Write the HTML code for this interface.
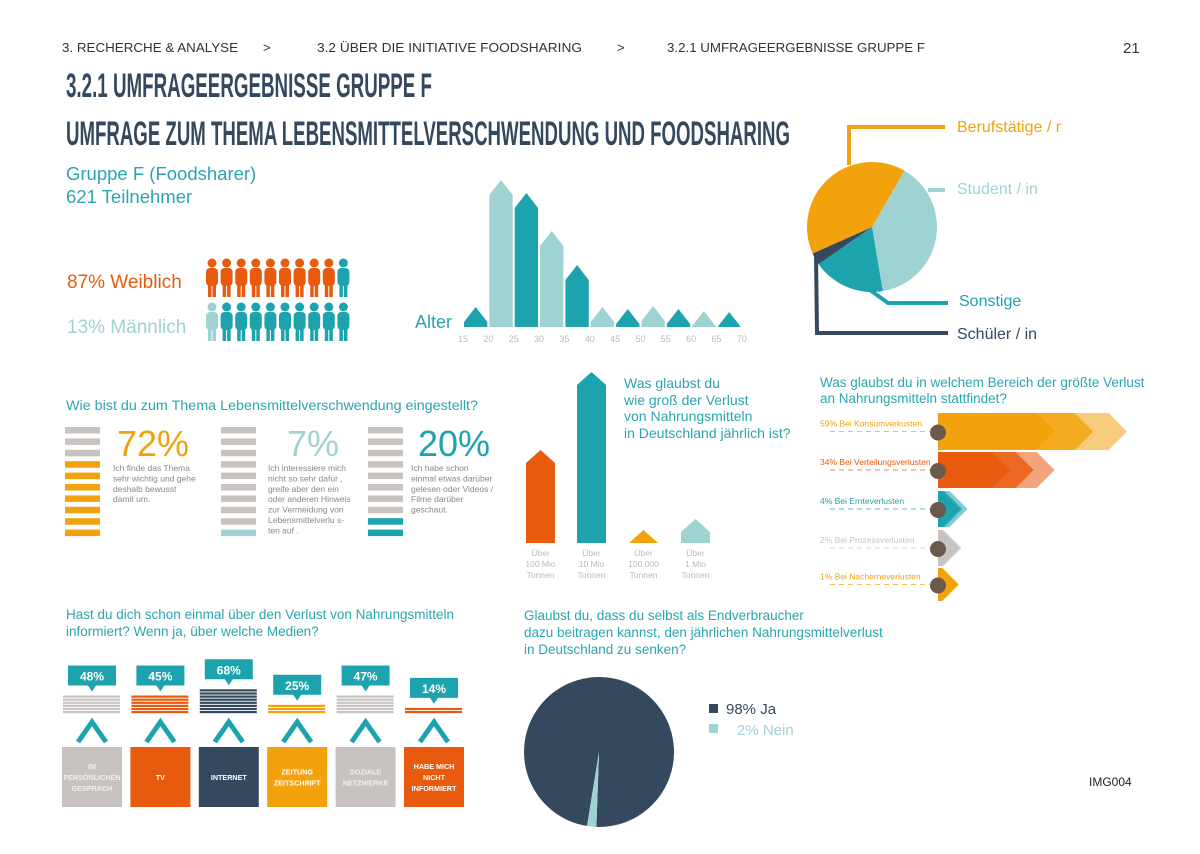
<!DOCTYPE html>
<html><head><meta charset="utf-8"><style>
html,body{margin:0;padding:0;background:#fff;}
svg{display:block;font-family:"Liberation Sans",sans-serif;}
</style></head><body>
<svg id="s" width="1200" height="854" viewBox="0 0 1200 854" xmlns="http://www.w3.org/2000/svg">
<rect width="1200" height="854" fill="#fff"/>
<g font-size="13" fill="#333">
<text x="62" y="52" textLength="176" lengthAdjust="spacingAndGlyphs">3. RECHERCHE &amp; ANALYSE</text>
<text x="263" y="52">&gt;</text>
<text x="317" y="52" textLength="265" lengthAdjust="spacingAndGlyphs">3.2 ÜBER DIE INITIATIVE FOODSHARING</text>
<text x="617" y="52">&gt;</text>
<text x="667" y="52" textLength="258" lengthAdjust="spacingAndGlyphs">3.2.1 UMFRAGEERGEBNISSE GRUPPE F</text>
<text x="1123" y="53" font-size="15">21</text>
</g>
<text x="66" y="97" font-size="34" font-weight="bold" fill="#34495e" textLength="366" lengthAdjust="spacingAndGlyphs" font-family="Liberation Sans Narrow, Liberation Sans, sans-serif">3.2.1 UMFRAGEERGEBNISSE GRUPPE F</text>
<text x="66" y="145" font-size="34" font-weight="bold" fill="#34495e" textLength="724" lengthAdjust="spacingAndGlyphs" font-family="Liberation Sans Narrow, Liberation Sans, sans-serif">UMFRAGE ZUM THEMA LEBENSMITTELVERSCHWENDUNG UND FOODSHARING</text>
<text x="66" y="180" font-size="18.5" fill="#2aa5b0">Gruppe F (Foodsharer)</text>
<text x="66" y="203" font-size="18.5" fill="#2aa5b0">621 Teilnehmer</text>
<text x="67" y="288" font-size="19" fill="#e85a0e">87% Weiblich</text>
<text x="67" y="333" font-size="19" fill="#9fd3d3">13% Männlich</text>
<text x="415" y="328" font-size="18" fill="#2aa5b0">Alter</text>
<text x="66" y="410" font-size="13.5" fill="#2aa5b0" textLength="412" lengthAdjust="spacingAndGlyphs">Wie bist du zum Thema Lebensmittelverschwendung eingestellt?</text>
<g font-size="14" fill="#2aa5b0">
<text x="624" y="388">Was glaubst du</text><text x="624" y="405">wie groß der Verlust</text><text x="624" y="421">von Nahrungsmitteln</text><text x="624" y="438">in Deutschland jährlich ist?</text></g>
<g font-size="13.5" fill="#2aa5b0">
<text x="820" y="387">Was glaubst du in welchem Bereich der größte Verlust</text><text x="820" y="403">an Nahrungsmitteln stattfindet?</text></g>
<g font-size="13.5" fill="#2aa5b0">
<text x="66" y="619">Hast du dich schon einmal über den Verlust von Nahrungsmitteln</text><text x="66" y="636">informiert? Wenn ja, über welche Medien?</text></g>
<g font-size="13.5" fill="#2aa5b0">
<text x="524" y="620">Glaubst du, dass du selbst als Endverbraucher</text><text x="524" y="637">dazu beitragen kannst, den jährlichen Nahrungsmittelverlust</text><text x="524" y="654">in Deutschland zu senken?</text></g>
<text x="1089" y="786" font-size="12" fill="#222">IMG004</text>
</svg>
<script>
// ---- data ----
const ageBins = [15,20,25,30,35,40,45,50,55,60,65];
const ageTicks = [15,20,25,30,35,40,45,50,55,60,65,70];
const ageValues = [5,132,119,81,47,5,3,6,3,1,0];
const occLabels = ["Student / in","Sonstige","Schüler / in","Berufstätige / r"];
const occValues = [39,18,3,40];
const femaleIcons = 9, maleIcons = 1;
const attitudePct = ["72%","7%","20%"];
const attitudeStripes = [7,1,2];
const lossCats = [["Über","100 Mio","Tonnen"],["Über","10 Mio","Tonnen"],["Über","100.000","Tonnen"],["Über","1 Mio","Tonnen"]];
const lossValues = [80,158,0,11];
const sectorLabels = ["59% Bei Konsumverkusten","34% Bei Verteilungsverlusten","4% Bei Ernteverlusten","2% Bei Prozessverlusten","1% Bei Nacherneverlusten"];
const sectorValues = [59,34,4,2,1];
const mediaLabels = [["IM","PERSÖNLICHEN","GESPRÄCH"],["TV"],["INTERNET"],["ZEITUNG","ZEITSCHRIFT"],["SOZIALE","NETZWERKE"],["HABE MICH","NICHT","INFORMIERT"]];
const mediaValues = [48,45,68,25,47,14];
const yesNoLabels = ["98% Ja","2% Nein"];
const yesNoValues = [98,2];

const S=document.getElementById('s'), NS="http://www.w3.org/2000/svg";
function mk(tag,a,p){const e=document.createElementNS(NS,tag);for(const k in a)e.setAttribute(k,a[k]);(p||S).appendChild(e);return e;}
function txt(x,y,s,a,p){const e=mk('text',Object.assign({x:x,y:y},a),p);e.textContent=s;return e;}
const TEAL="#1ca3ae",LT="#9fd3d3",OR="#f2a20c",RED="#e85a0e",DK="#34495e",GR="#c8c3c0";

function person(x,y,c,nm){const g=mk('g',{fill:c});


mk('circle',{cx:x+6,cy:y+5,r:4.5},g);mk('rect',{x:x,y:y+10,width:12,height:18,rx:4},g);
mk('rect',{x:x+2,y:y+26,width:3.5,height:13},g);mk('rect',{x:x+6.5,y:y+26,width:3.5,height:13},g);}
for(let i=0;i<10;i++){person(206+i*14.6,258,i<femaleIcons?RED:TEAL,'female-icon');}
for(let i=0;i<10;i++){person(206+i*14.6,302,i<maleIcons?LT:TEAL,'male-icon');}

const ax=v=>463+(v-15)*5.07, ay=v=>327-v;
ageBins.forEach((b,i)=>{const x0=ax(b)+1,x1=ax(b+5)-1,sh=ay(ageValues[i]),m=(x0+x1)/2;
const p=mk('polygon',{points:`${x0},327 ${x0},${sh} ${m},${sh-15} ${x1},${sh} ${x1},327`,fill:i%2?LT:TEAL});

});
ageTicks.forEach(t=>{const e=txt(ax(t),342,t,{'font-size':9,fill:'#bbb','text-anchor':'middle'});

});

function arcs(cx,cy,r,vals,start,cols,nm){const tot=vals.reduce((a,b)=>a+b,0);let a=start;
vals.forEach((v,i)=>{const b=a+v/tot*2*Math.PI;const p=mk('path',{d:`M${cx},${cy}L${cx+r*Math.cos(a)},${cy+r*Math.sin(a)}A${r},${r} 0 ${b-a>Math.PI?1:0} 1 ${cx+r*Math.cos(b)},${cy+r*Math.sin(b)}Z`,fill:cols[i]});

a=b;});}
arcs(872,227,65,occValues,-60*Math.PI/180,[LT,TEAL,DK,OR],'occupation-slice');
const lead=[["849,165 849,127 945,127",OR,957,132],["928,190 945,190",LT,957,194],["870,290 888,303 948,303",TEAL,959,306],["816,255 817,333 948,333",DK,957,339]];
[3,0,1,2].forEach((k,j)=>{const L=lead[j];const pl=mk('polyline',{points:L[0],fill:'none',stroke:L[1],'stroke-width':4});


const t=txt(L[2],L[3],occLabels[k],{'font-size':16,fill:L[1]});

});

const attX=[65,221,368],attC=[OR,LT,TEAL],pctX=[117,287,418];
const attText=[["Ich finde das  Thema","sehr wichtig und gehe","deshalb bewusst","damit um."],["Ich interessiere mich","nicht so sehr dafür ,","greife aber den ein","oder anderen Hinweis","zur Vermeidung von","Lebensmittelverlu  s-","ten auf ."],["Ich habe schon","einmal etwas darüber","gelesen oder Videos /","Filme darüber","geschaut."]];
attX.forEach((x,c)=>{for(let i=0;i<10;i++){const r=mk('rect',{x:x,y:427+i*11.4,width:35,height:6.5,fill:i>=10-attitudeStripes[c]?attC[c]:GR});

}
const p=txt(pctX[c],456,attitudePct[c],{'font-size':36,fill:attC[c]});


attText[c].forEach((l,k)=>{const t=txt(pctX[c]-4+(c==1?-15:0)+(c==2?-3:0),471+k*10.4,l,{'font-size':8.5,fill:'#888'});

});});

const lossX=[526,577,629,681],lossC=[RED,TEAL,OR,LT];
lossValues.forEach((v,i)=>{const x0=lossX[i],x1=x0+29,m=x0+14.5,sh=543-v;
const p=mk('polygon',{points:`${x0},543 ${x0},${sh} ${m},${sh-13} ${x1},${sh} ${x1},543`,fill:lossC[i]});


lossCats[i].forEach((l,k)=>{const t=txt(m,556+k*11,l,{'font-size':8.5,fill:'#bbb','text-anchor':'middle'});

});});

const secY=[413,452,491,530,568],secH=[37,36,36,36,33],secC=[OR,RED,TEAL,GR,OR];
sectorValues.forEach((v,i)=>{const y=secY[i],h=secH[i],L=18+v*2.9,x0=938,tp=h/2;
[[1,0.55],[0.82,0.8],[0.62,1]].forEach(([f,o])=>{const e=x0+Math.max(L*f,tp+4);
const p=mk('polygon',{points:`${x0},${y} ${e-tp},${y} ${e},${y+h/2} ${e-tp},${y+h} ${x0},${y+h}`,fill:secC[i],opacity:o});

});
const d=mk('line',{x1:830,y1:y+h/2,x2:930,y2:y+h/2,stroke:secC[i],'stroke-width':1,'stroke-dasharray':'5,4',opacity:0.7});


const c=mk('circle',{cx:938,cy:y+h/2+1,r:8,fill:'#6b5a4b'});


const t=txt(820,y+h/2-5,sectorLabels[i],{'font-size':8.5,fill:secC[i]});

});

const mC=[GR,RED,DK,OR,GR,RED],mS=[GR,RED,DK,OR,GR,RED];
mediaValues.forEach((v,i)=>{const x=62+i*68.4,cx=x+30,n=Math.max(1,Math.ceil(v/8.5)),top=711-(n-1)*3.1;
for(let k=0;k<n;k++){const l=mk('rect',{x:x+1,y:top+k*3.1,width:57,height:2.2,fill:mS[i]});

}
const bb=top-4;
const bub=mk('path',{d:`M${cx-24},${bb-26}h48v20h-20l-4,6l-4,-6h-20z`,fill:'#1ca3ae'});


const bt=txt(cx,bb-11,v+'%',{'font-size':12,'font-weight':'bold',fill:'#fff','text-anchor':'middle'});


const ch=mk('polyline',{points:`${cx-14},742 ${cx},722 ${cx+14},742`,fill:'none',stroke:TEAL,'stroke-width':5});


const b=mk('rect',{x:x,y:747,width:60,height:60,fill:mC[i]});


const ls=mediaLabels[i],y0=777-(ls.length-1)*5.5;
ls.forEach((l,k)=>{const t=txt(cx,y0+k*11+3,l,{'font-size':7.2,'font-weight':'bold',fill:i==0||i==4?'#f2f0ee':'#fff','text-anchor':'middle'});

});});

arcs(599,752,75,yesNoValues,(92-360*0.98)*Math.PI/180,[DK,LT],'yes-no-slice');
[[DK,704,714],[LT,724,735]].forEach((q,i)=>{const r=mk('rect',{x:709,y:q[1],width:9,height:9,fill:q[0]});


const t=txt(i?737:726,q[2],yesNoLabels[i],{'font-size':15,fill:i?LT:DK});

});
</script>
</body></html>
